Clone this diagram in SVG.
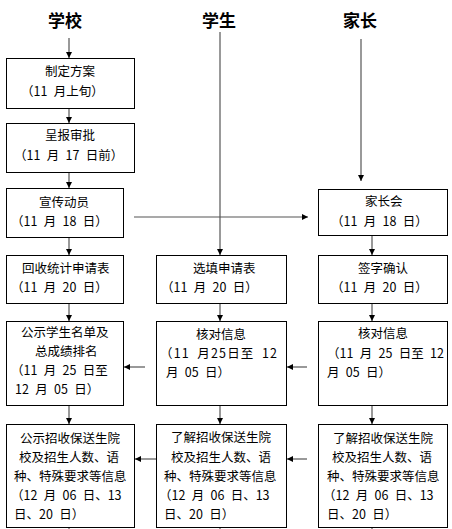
<svg xmlns="http://www.w3.org/2000/svg" width="452" height="529" viewBox="0 0 452 529">
<style>
.box{fill:#fff;stroke:#000;stroke-width:1}
.t{font-family:"Noto Sans CJK SC","Liberation Sans",sans-serif;font-size:12.5px;word-spacing:3.5px;fill:#000}
.h{font-family:"Noto Sans CJK SC","Liberation Sans",sans-serif;font-size:17px;font-weight:bold;fill:#000}
.c{stroke:#555;stroke-width:1.2;fill:none}
</style>
<defs>
<marker id="ah" viewBox="0 0 6 6" refX="6" refY="3" markerWidth="6" markerHeight="6" markerUnits="userSpaceOnUse" orient="auto">
<path d="M0,0 L6,3 L0,6 Z" fill="#000"/>
</marker>
</defs>
<rect width="452" height="529" fill="#fff"/>
<g id="headers">
<text class="h" x="48" y="27">学校</text>
<text class="h" x="202" y="27">学生</text>
<text class="h" x="343" y="27">家长</text>
</g>
<g id="connectors">
<line class="c" x1="69" y1="38" x2="69" y2="58" marker-end="url(#ah)"/>
<line class="c" x1="69" y1="109" x2="69" y2="123" marker-end="url(#ah)"/>
<line class="c" x1="69" y1="173" x2="69" y2="188" marker-end="url(#ah)"/>
<line class="c" x1="69" y1="238" x2="69" y2="255" marker-end="url(#ah)"/>
<line class="c" x1="69" y1="304" x2="69" y2="321" marker-end="url(#ah)"/>
<line class="c" x1="69" y1="406" x2="69" y2="424" marker-end="url(#ah)"/>
<line class="c" x1="69" y1="528" x2="69" y2="529"/>
<line class="c" x1="220" y1="32" x2="220" y2="255" marker-end="url(#ah)"/>
<line class="c" x1="220" y1="304" x2="220" y2="321" marker-end="url(#ah)"/>
<line class="c" x1="220" y1="406" x2="220" y2="424" marker-end="url(#ah)"/>
<line class="c" x1="220" y1="528" x2="220" y2="529"/>
<line class="c" x1="361" y1="39" x2="361" y2="181" marker-end="url(#ah)"/>
<line class="c" x1="372" y1="236" x2="372" y2="255" marker-end="url(#ah)"/>
<line class="c" x1="372" y1="304" x2="372" y2="321" marker-end="url(#ah)"/>
<line class="c" x1="372" y1="406" x2="372" y2="424" marker-end="url(#ah)"/>
<line class="c" x1="372" y1="528" x2="372" y2="529"/>
<line class="c" x1="134" y1="217" x2="308" y2="217" marker-end="url(#ah)"/>
<line class="c" x1="307" y1="367" x2="287" y2="367" marker-end="url(#ah)"/>
<line class="c" x1="145" y1="367" x2="124" y2="367" marker-end="url(#ah)"/>
<line class="c" x1="307" y1="459" x2="287" y2="459" marker-end="url(#ah)"/>
<line class="c" x1="156" y1="459" x2="135" y2="459" marker-end="url(#ah)"/>
</g>
<g id="L1"><rect class="box" x="6.5" y="58.5" width="128" height="50"/>
<text class="t" x="45" y="76">制定方案</text><text class="t" x="21" y="96">（11 月上旬）</text></g>
<g id="L2"><rect class="box" x="6.5" y="123.5" width="128" height="49"/>
<text class="t" x="45" y="140">呈报审批</text><text class="t" x="14" y="160">（11 月 17 日前）</text></g>
<g id="L3"><rect class="box" x="6.5" y="188.5" width="117" height="49"/>
<text class="t" x="39" y="207">宣传动员</text><text class="t" x="11" y="226">（11 月 18 日）</text></g>
<g id="L4"><rect class="box" x="6.5" y="255.5" width="117" height="48"/>
<text class="t" x="22" y="273">回收统计申请表</text><text class="t" x="11" y="292">（11 月 20 日）</text></g>
<g id="L5"><rect class="box" x="6.5" y="321.5" width="117" height="84"/>
<text class="t" x="21" y="337">公示学生名单及</text><text class="t" x="35" y="356">总成绩排名</text>
<text class="t" x="11" y="375">（11 月 25 日至</text><text class="t" x="15" y="394">12 月 05 日）</text></g>
<g id="L6"><rect class="box" x="6.5" y="424.5" width="128" height="103"/>
<text class="t" x="20" y="443">公示招收保送生院</text><text class="t" x="19" y="462">校及招生人数、语</text>
<text class="t" x="14" y="481">种、特殊要求等信息</text><text class="t" x="11" y="500">（12 月 06 日、13</text>
<text class="t" x="14" y="519">日、20 日）</text></g>
<g id="M1"><rect class="box" x="156.5" y="255.5" width="130" height="48"/>
<text class="t" x="193" y="273">选填申请表</text><text class="t" x="161" y="292">（11 月 20 日）</text></g>
<g id="M2"><rect class="box" x="156.5" y="321.5" width="130" height="84"/>
<text class="t" x="196" y="339">核对信息</text><text class="t" x="160" y="358" textLength="117">（11 月25日至 12</text>
<text class="t" x="166" y="377">月 05 日）</text></g>
<g id="M3"><rect class="box" x="156.5" y="424.5" width="130" height="103"/>
<text class="t" x="171" y="442">了解招收保送生院</text><text class="t" x="171" y="462">校及招生人数、语</text>
<text class="t" x="164" y="481">种、特殊要求等信息</text><text class="t" x="159" y="500">（12 月 06 日、13</text>
<text class="t" x="164" y="519">日、20 日）</text></g>
<g id="R1"><rect class="box" x="318.5" y="189.5" width="129" height="46"/>
<text class="t" x="365" y="206">家长会</text><text class="t" x="331" y="226">（11 月 18 日）</text></g>
<g id="R2"><rect class="box" x="318.5" y="255.5" width="129" height="48"/>
<text class="t" x="358" y="273">签字确认</text><text class="t" x="331" y="292">（11 月 20 日）</text></g>
<g id="R3"><rect class="box" x="318.5" y="321.5" width="129" height="84"/>
<text class="t" x="358" y="338">核对信息</text><text class="t" x="327" y="358">（11 月 25 日至 12</text>
<text class="t" x="327" y="377">月 05 日）</text></g>
<g id="R4"><rect class="box" x="318.5" y="424.5" width="129" height="103"/>
<text class="t" x="333" y="443">了解招收保送生院</text><text class="t" x="332" y="462">校及招生人数、语</text>
<text class="t" x="327" y="481">种、特殊要求等信息</text><text class="t" x="323" y="500">（12 月 06 日、13</text>
<text class="t" x="327" y="519">日、20 日）</text></g>
</svg>
